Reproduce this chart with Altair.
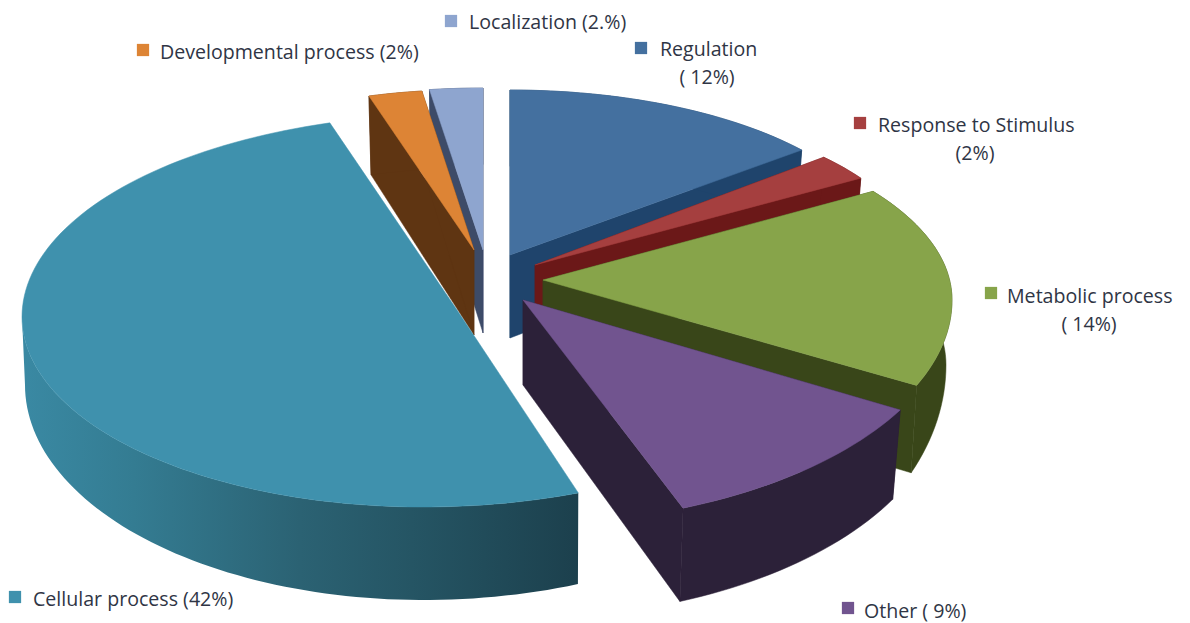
import math
import altair as alt
import pandas as pd

# ---- chart values -------------------------------------------------------
categories = ["Regulation", "Response to Stimulus", "Metabolic process", "Other",
              "Cellular process", "Developmental process", "Localization"]
start_deg = [0.0, 48.6, 53.8, 119.4, 157.8, -16.5, -8.1]
span_deg = [50.5, 9.2, 60.2, 38.9, 185.2, 8.4, 8.1]
top_colors = ["#44709f", "#a53f3f", "#87a44a", "#71548f", "#3f91ad", "#dd8435", "#8ea5cf"]
side_colors = ["#1f446c", "#6b1818", "#394619", "#2c2139", "#1b4250", "#5f3512", "#3d4b68"]
legend_colors = ["#44709f", "#a53f3f", "#87a44a", "#71548f", "#3f91ad", "#dd8435", "#8ea5cf"]

label_lines = [
    ["Regulation", "( 12%)"],
    ["Response to Stimulus", "(2%)"],
    ["Metabolic process", "( 14%)"],
    ["Other ( 9%)"],
    ["Cellular process (42%)"],
    ["Developmental process (2%)"],
    ["Localization (2.%)"],
]

# ---- layout of the drawing ---------------------------------------------
# apex x, apex y, ellipse offset, rx, ry far, ry near, apex bottom y
geom = {
    "Regulation": (510, 255, 0, 378, 165, 165, 338),
    "Response to Stimulus": (535, 265, 0, 385, 163, 163, 350),
    "Metabolic process": (543, 280, 20, 409, 184, 210, 363),
    "Other": (523, 300, 0, 433, 224, 224, 385),
    "Cellular process": (457, 310, 7, 435, 203, 190, 395),
    "Developmental process": (474, 250, 0, 370, 160.6, 160.6, 335),
    "Localization": (483, 250, 0, 380, 162, 162, 333),
}
SX, SY = 0.98, 1.04
paint_order = ["Localization", "Developmental process", "Regulation",
               "Response to Stimulus", "Metabolic process", "Other", "Cellular process"]
# front half of the large slice: centre x, centre y, rx right, rx left, ry
cell_top_near = (423, 317, 411, 401, 190)
cell_low_near = (423, 385, 410, 398, 215)
# lower rim of the green slice: centre x, centre y, rx, ry far, ry near
met_low = (543, 365, 403, 191, 265)
# square x, square y, text x, first line y, second line centre x
legend_pos = {
    "Regulation": (641, 48, 660, 50, 707),
    "Response to Stimulus": (860, 123, 878, 126, 975),
    "Metabolic process": (991, 293, 1007, 297, 1089),
    "Other": (848, 608, 864, 612, 0),
    "Cellular process": (15, 597, 33, 600, 0),
    "Developmental process": (143, 50, 160, 53, 0),
    "Localization": (451, 21, 469, 23, 0),
}
FONT, FSIZE, TEXT = "Open Sans", 19.6, "#2f3545"
X_DOM, Y_DOM = [8, 1182], [623, 8]
W, H = 1174, 615

x_enc = alt.X("x:Q", scale=alt.Scale(domain=X_DOM, nice=False, zero=False), axis=None)
y_enc = alt.Y("y:Q", scale=alt.Scale(domain=Y_DOM, nice=False, zero=False), axis=None)


def near_arc(shape, t0, t1):
    cx, cy, rxr, rxl, ry = shape
    n = max(3, int(abs(t1 - t0) / 1.5))
    pts = []
    for i in range(n + 1):
        t = math.radians(t0 + (t1 - t0) * i / n)
        s = math.sin(t)
        pts.append((cx + (rxr if s > 0 else rxl) * s, cy - ry * math.cos(t)))
    return pts


def arc(name, t0, span):
    ax, ay, eo, rx, ryf, ryn, _ = geom[name]
    n = max(3, int(abs(span) / 1.5))
    pts = []
    for i in range(n + 1):
        t = math.radians(t0 + span * i / n)
        c = math.cos(t)
        ry = ryf if c > 0 else ryn
        pts.append((ax + rx * math.sin(t), ay + eo - ry * c))
    return pts


def lower(name, p):
    ax, ay = geom[name][0], geom[name][1]
    return (ax + SX * (p[0] - ax), geom[name][6] + SY * (p[1] - ay))


def poly(points, **mark):
    df = pd.DataFrame({"x": [p[0] for p in points] + [points[0][0]],
                       "y": [p[1] for p in points] + [points[0][1]],
                       "o": list(range(len(points) + 1))})
    return alt.Chart(df).mark_line(**mark).encode(x=x_enc, y=y_enc, order="o:Q")


layers = []
wall_gradient = alt.LinearGradient(
    gradient="linear", x1=0, x2=1, y1=0, y2=0,
    stops=[alt.GradientStop(color="#3a89a3", offset=0),
           alt.GradientStop(color="#347c92", offset=0.2),
           alt.GradientStop(color="#2b6273", offset=0.5),
           alt.GradientStop(color="#255564", offset=0.7),
           alt.GradientStop(color="#1c404d", offset=1)])

for name in paint_order:
    i = categories.index(name)
    ax, ay = geom[name][0], geom[name][1]
    apex = (ax, ay)
    apex_low = lower(name, apex)
    side = side_colors[i]
    t0, span = start_deg[i], span_deg[i]
    if name == "Cellular process":
        front = near_arc(cell_top_near, t0, 270)
        back = arc(name, 270, t0 + span - 270)
        rim = front + back
        rim_low = near_arc(cell_low_near, t0, 270)
        layers.append(poly(front + rim_low[::-1], fill=wall_gradient, strokeWidth=0))
    else:
        rim = arc(name, t0, span)
        if name == "Metabolic process":
            cx, cy, rx, ryf, ryn = met_low
            rim_low = []
            for k in range(41):
                t = math.radians(t0 + span * k / 40)
                c = math.cos(t)
                rim_low.append((cx + rx * math.sin(t), cy - (ryf if c > 0 else ryn) * c))
        else:
            rim_low = [lower(name, p) for p in rim]
        for end, end_low in ((rim[0], rim_low[0]), (rim[-1], rim_low[-1])):
            layers.append(poly([apex, end, end_low, apex_low],
                               fill=side, stroke=side, strokeWidth=0.5))
        layers.append(poly(rim + rim_low[::-1], fill=side, stroke=side, strokeWidth=0.5))
    layers.append(poly([apex] + rim, fill=top_colors[i], stroke=top_colors[i], strokeWidth=0.5))

sq_rows, left_rows, mid_rows = [], [], []
for i, name in enumerate(categories):
    sx, sy, tx, ty, cx = legend_pos[name]
    sq_rows.append({"x": sx, "y": sy, "c": legend_colors[i]})
    left_rows.append({"x": tx, "y": ty, "t": label_lines[i][0]})
    if len(label_lines[i]) > 1:
        mid_rows.append({"x": cx, "y": ty + 28, "t": label_lines[i][1]})

squares = alt.Chart(pd.DataFrame(sq_rows)).mark_square(size=150, opacity=1).encode(
    x=x_enc, y=y_enc, color=alt.Color("c:N", scale=None, legend=None))
left_text = alt.Chart(pd.DataFrame(left_rows)).mark_text(
    align="left", baseline="middle", font=FONT, fontSize=FSIZE, color=TEXT
).encode(x=x_enc, y=y_enc, text="t:N")
mid_text = alt.Chart(pd.DataFrame(mid_rows)).mark_text(
    align="center", baseline="middle", font=FONT, fontSize=FSIZE, color=TEXT
).encode(x=x_enc, y=y_enc, text="t:N")

chart = alt.layer(*layers, squares, left_text, mid_text).properties(
    width=W, height=H, padding=0, autosize="none", background="white"
).configure_view(stroke=None)

chart.save("out.html", embed_options={"renderer": "svg", "actions": False})
